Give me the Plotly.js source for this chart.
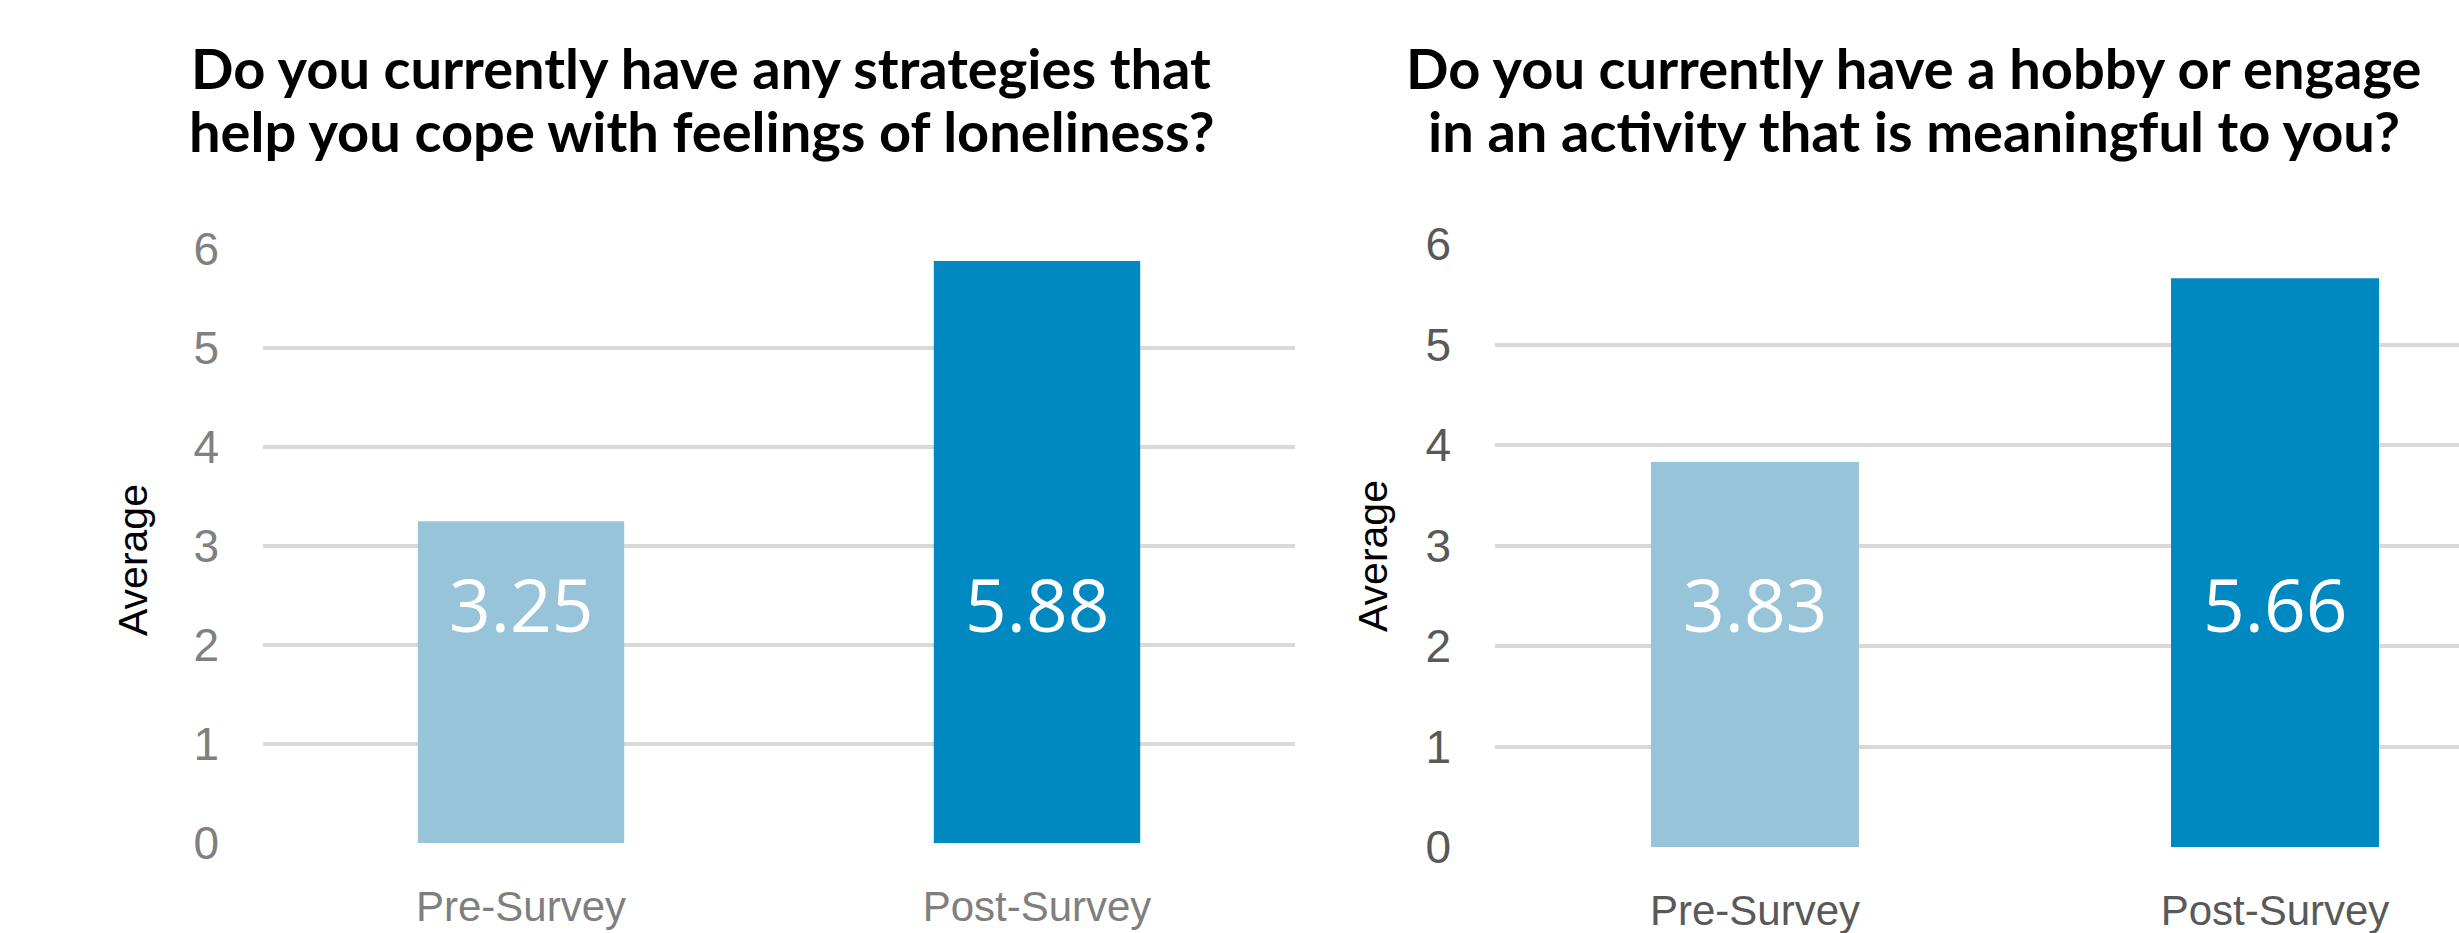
<!DOCTYPE html>
<html>
<head>
<meta charset="utf-8">
<script src="https://cdn.plot.ly/plotly-3.0.1.min.js"></script>
<style>
  html, body { margin: 0; padding: 0; background: #ffffff; }
  #chart { width: 2459px; height: 933px; }
</style>
</head>
<body>
<div id="chart"></div>
<script>
// ---- Data ----
const categories = ['Pre-Survey', 'Post-Survey'];
const strategiesValues = [3.25, 5.88];
const hobbyValues = [3.83, 5.66];
const yTickVals = [0, 1, 2, 3, 4, 5, 6];
const yTickText = ['0', '1', '2', '3', '4', '5', '6'];
const leftTitleLines = [
  'Do you currently have any strategies that',
  'help you cope with feelings of loneliness?'
];
const rightTitleLines = [
  'Do you currently have a hobby or engage',
  'in an activity that is meaningful to you?'
];
const yTitle = 'Average';

// ---- Styles ----
const barColors = ['#97C4D9', '#0089C1'];
const labelY = 2.42;

const traces = [
  {
    type: 'bar', x: categories, y: strategiesValues,
    xaxis: 'x', yaxis: 'y',
    marker: { color: barColors },
    hoverinfo: 'none', showlegend: false
  },
  {
    type: 'bar', x: categories, y: hobbyValues,
    xaxis: 'x2', yaxis: 'y2',
    marker: { color: barColors },
    hoverinfo: 'none', showlegend: false
  }
];

const annotations = [];
[strategiesValues, hobbyValues].forEach((vals, k) => {
  const xr = k === 0 ? 'x' : 'x2';
  const yr = k === 0 ? 'y' : 'y2';
  categories.forEach((c, i) => {
    annotations.push({
      x: c, y: labelY, xref: xr, yref: yr,
      text: vals[i].toFixed(2), showarrow: false,
      xanchor: 'center', yanchor: 'middle',
      font: { family: 'Open Sans, sans-serif', size: 73, color: '#ffffff' }
    });
  });
});

// Titles (one annotation per line for tight line spacing)
const titleFont = { family: 'Lato, sans-serif', size: 56, color: '#000000' };
const lineCentersY = [68, 131];
[[leftTitleLines, 701], [rightTitleLines, 1914]].forEach(([lines, cx]) => {
  lines.forEach((ln, i) => {
    annotations.push({
      xref: 'paper', yref: 'paper', x: cx / 2459, y: 1 - lineCentersY[i] / 933,
      xanchor: 'center', yanchor: 'middle', showarrow: false,
      text: '<b>' + ln + '</b>', font: titleFont
    });
  });
});

// Y axis titles
annotations.push({
  xref: 'paper', yref: 'paper', x: 133 / 2459, y: 1 - 560 / 933,
  xanchor: 'center', yanchor: 'middle', showarrow: false, textangle: -90,
  text: yTitle,
  font: { family: 'Liberation Sans, Arial, sans-serif', size: 41, color: '#000000' }
});
annotations.push({
  xref: 'paper', yref: 'paper', x: 1373 / 2459, y: 1 - 556 / 933,
  xanchor: 'center', yanchor: 'middle', showarrow: false, textangle: -90,
  text: yTitle,
  font: { family: 'Liberation Sans, Arial, sans-serif', size: 41, color: '#000000' }
});

function yAxis(domain, color) {
  return {
    domain: domain, range: [0, 6], autorange: false,
    tickmode: 'array', tickvals: yTickVals, ticktext: yTickText,
    showgrid: true, gridcolor: '#D9D9D9', gridwidth: 4,
    zeroline: false, showline: false, ticks: '',
    ticklabelstandoff: 43, automargin: false, fixedrange: true,
    tickfont: { family: 'Liberation Sans, Arial, sans-serif', size: 46, color: color }
  };
}
function xAxis(domain, range, color) {
  return {
    domain: domain, range: range, autorange: false, type: 'category',
    showgrid: false, zeroline: false, showline: false, ticks: '',
    ticklabelstandoff: 35, automargin: false, fixedrange: true,
    tickfont: { family: 'Liberation Sans, Arial, sans-serif', size: 42, color: color }
  };
}

const layout = {
  width: 2459, height: 933,
  margin: { l: 0, r: 0, t: 0, b: 0, pad: 0 },
  paper_bgcolor: '#ffffff', plot_bgcolor: 'rgba(0,0,0,0)',
  bargap: 0.6, showlegend: false,
  xaxis: Object.assign(xAxis([263 / 2459, 1295 / 2459], [-0.5, 1.5], '#7F7F7F'), { anchor: 'y' }),
  yaxis: Object.assign(yAxis([1 - 843 / 933, 1 - 249 / 933], '#808080'), { anchor: 'x' }),
  xaxis2: Object.assign(xAxis([1495 / 2459, 1], [-0.5, -0.5 + 964 / 520], '#595959'), { anchor: 'y2' }),
  yaxis2: Object.assign(yAxis([1 - 847 / 933, 1 - 244 / 933], '#595959'), { anchor: 'x2' }),
  annotations: annotations
};

Plotly.newPlot('chart', traces, layout, { displayModeBar: false, staticPlot: true });
</script>
</body>
</html>
